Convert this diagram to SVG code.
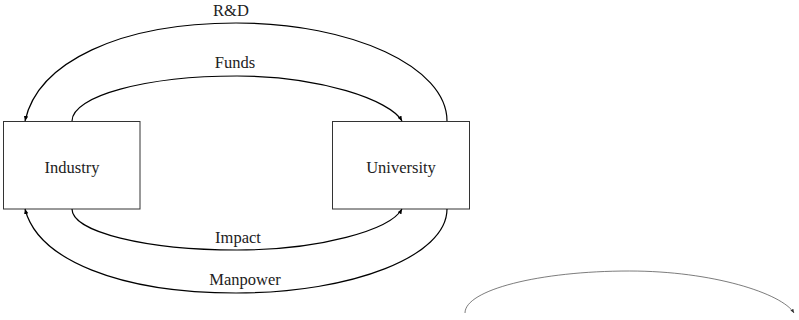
<svg xmlns="http://www.w3.org/2000/svg" width="799" height="320" viewBox="0 0 799 320">
<defs>
<marker id="ah" markerWidth="6" markerHeight="6" refX="5" refY="3" orient="auto" markerUnits="userSpaceOnUse">
<path d="M0,0.8 L5,3 L0,5.2 Z" fill="#000"/>
</marker>
<marker id="ah2" markerWidth="5" markerHeight="5" refX="4" refY="2.5" orient="auto" markerUnits="userSpaceOnUse">
<path d="M0,0.8 L4,2.5 L0,4.2 Z" fill="#333"/>
</marker>
</defs>
<style>
.box{fill:#fff;stroke:#333;stroke-width:1}
.lbl{font-family:"Liberation Serif",serif;font-size:16.5px;fill:#222;text-anchor:middle}
.edge{fill:none;stroke:#000;stroke-width:1.2}
.thin{fill:none;stroke:#444;stroke-width:0.7}
</style>
<rect width="799" height="320" fill="#fff"/>
<g id="industry">
<rect class="box" x="3.5" y="121.5" width="136.5" height="87.5"/>
<text class="lbl" x="72" y="173">Industry</text>
</g>
<g id="university">
<rect class="box" x="332.5" y="121.5" width="137" height="87.5"/>
<text class="lbl" x="401" y="173">University</text>
</g>
<g id="connectors">
<path class="edge" d="M447,121 C447,67 352.5,23 236,23 C120,23 38,62 25,121" marker-end="url(#ah)"/>
<path class="edge" d="M72,121 C72,96 146,76 237,76 C320,76 390,100 402,121" marker-end="url(#ah)"/>
<path class="edge" d="M72,209 C72,232 146,250 237,250 C320,250 390,230 402,209" marker-end="url(#ah)"/>
<path class="edge" d="M447,209 C447,256 352.5,293 236,293 C120,293 38,260 25,209" marker-end="url(#ah)"/>
<path class="thin" d="M465,313 C465,290 539,271 629.5,271 C712.5,271 782,293.4 794,313" marker-end="url(#ah2)"/>
<text class="lbl" x="231" y="16">R&amp;D</text>
<text class="lbl" x="235" y="68">Funds</text>
<text class="lbl" x="238" y="243">Impact</text>
<text class="lbl" x="245" y="285">Manpower</text>
</g>
</svg>
